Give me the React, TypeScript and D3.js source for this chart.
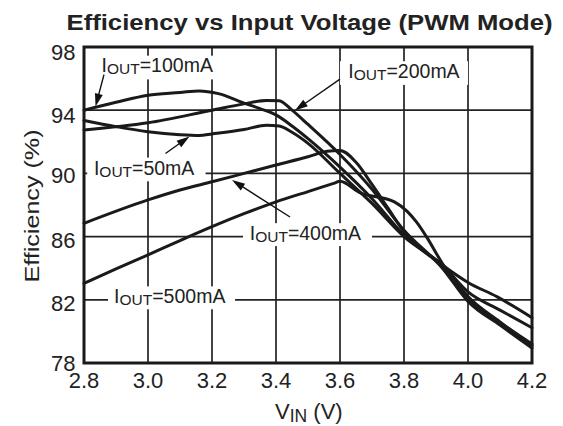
import React from 'react';
import * as d3 from 'd3';

// ---------- data ----------
const xTicks = [2.8, 3.0, 3.2, 3.4, 3.6, 3.8, 4.0, 4.2];
const yTicks = [78, 82, 86, 90, 94, 98];
const xTickLabels = ['2.8', '3.0', '3.2', '3.4', '3.6', '3.8', '4.0', '4.2'];
const yTickLabels = ['78', '82', '86', '90', '94', '98'];

const vin50 = [2.8, 2.9, 3.0, 3.1, 3.16, 3.2, 3.3, 3.37, 3.41, 3.45, 3.5, 3.6, 3.7, 3.8, 3.92, 4.0, 4.1, 4.2];
const eff50 = [93.35, 92.96, 92.64, 92.45, 92.4, 92.5, 92.78, 93.05, 93.0, 92.6, 91.9, 90.0, 88.1, 86.0, 84.2, 82.5, 81.35, 80.23];

const vin100 = [2.8, 2.9, 3.0, 3.1, 3.16, 3.22, 3.3, 3.35, 3.4, 3.45, 3.5, 3.6, 3.7, 3.8, 3.92, 4.0, 4.1, 4.2];
const eff100 = [94.0, 94.5, 94.95, 95.12, 95.22, 95.05, 94.45, 94.1, 93.7, 93.0, 92.2, 90.4, 88.4, 86.1, 84.1, 82.0, 80.55, 79.2];

const vin200 = [2.8, 3.0, 3.2, 3.3, 3.37, 3.41, 3.45, 3.5, 3.6, 3.7, 3.8, 3.92, 4.0, 4.1, 4.2];
const eff200 = [92.75, 93.2, 94.0, 94.4, 94.62, 94.6, 94.0, 93.1, 91.2, 89.0, 86.4, 84.0, 81.9, 80.4, 78.95];

const vin400 = [2.8, 3.0, 3.1, 3.2, 3.3, 3.4, 3.5, 3.56, 3.6, 3.65, 3.7, 3.75, 3.8, 3.92, 4.0, 4.09, 4.2];
const eff400 = [86.84, 88.32, 88.95, 89.47, 90.0, 90.53, 91.05, 91.4, 91.45, 90.7, 89.3, 87.8, 86.3, 84.2, 83.1, 82.2, 80.87];

const vin500 = [2.8, 2.9, 3.0, 3.1, 3.2, 3.3, 3.4, 3.5, 3.58, 3.6, 3.66, 3.77, 3.81, 3.84, 3.87, 3.92, 4.0, 4.1, 4.2];
const eff500 = [83.04, 83.95, 84.84, 85.75, 86.63, 87.45, 88.2, 88.85, 89.37, 89.5, 88.8, 88.2, 87.6, 86.9, 86.0, 84.3, 82.2, 80.6, 79.1];

const seriesNames = ['50mA', '100mA', '200mA', '400mA', '500mA'];
const seriesVin = [vin50, vin100, vin200, vin400, vin500];
const seriesEff = [eff50, eff100, eff200, eff400, eff500];

// ---------- layout ----------
const W = 563;
const H = 426;
const M = { left: 84, right: 31, top: 47, bottom: 63 };
const FONT = '"Liberation Sans", Arial, Helvetica, sans-serif';
const yTickDy = [7.5, 11, 11.5, 10, 12.5, 13];

// annotation layout (data coordinates)
const labels = [
  { name: '100mA', v: 2.855, e: 96.4, box: [2.83, 3.23, 97.45, 95.95] },
  { name: '200mA', v: 3.626, e: 96.02, box: [3.6, 4.0, 97.1, 95.6] },
  { name: '50mA', v: 2.831, e: 89.92, box: [2.81, 3.18, 91.0, 89.5] },
  { name: '400mA', v: 3.318, e: 85.76, box: [3.297, 3.7, 86.85, 85.4] },
  { name: '500mA', v: 2.894, e: 81.8, box: [2.875, 3.272, 82.85, 81.4] },
];
const arrows = [
  { from: [2.8625, 96.25], to: [2.836, 94.23] },
  { from: [3.6, 95.97], to: [3.459, 93.98] },
  { from: [3.0547, 91.26], to: [3.1297, 92.34] },
  { from: [3.4438, 87.24], to: [3.2625, 89.58] },
];

export default function App() {
  const x = d3.scaleLinear().domain([2.8, 4.2]).range([M.left, W - M.right]);
  const y = d3.scaleLinear().domain([78, 98]).range([H - M.bottom, M.top]);

  const line = d3
    .line<[number, number]>()
    .x((d) => x(d[0]))
    .y((d) => y(d[1]))
    .curve(d3.curveMonotoneX);

  const arrowEls = arrows.map((a, i) => {
    const x0 = x(a.from[0]);
    const y0 = y(a.from[1]);
    const x1 = x(a.to[0]);
    const y1 = y(a.to[1]);
    const dx = x1 - x0;
    const dy = y1 - y0;
    const len = Math.sqrt(dx * dx + dy * dy);
    const ux = dx / len;
    const uy = dy / len;
    const L = 13;
    const Wd = 4;
    const bx = x1 - ux * L;
    const by = y1 - uy * L;
    const pts = [
      [x1, y1],
      [bx - uy * Wd, by + ux * Wd],
      [bx + uy * Wd, by - ux * Wd],
    ];
    return (
      <g key={'a' + i}>
        <line x1={x0} y1={y0} x2={bx + ux * 2} y2={by + uy * 2} stroke="#111" strokeWidth={1.4} />
        <polygon points={pts.map((p) => p.join(',')).join(' ')} fill="#111" />
      </g>
    );
  });

  return (
    <svg
      width={W}
      height={H}
      style={{ position: 'absolute', left: 0, top: 0, background: '#fff' }}
      fontFamily={FONT}
    >
      <rect x={0} y={0} width={W} height={H} fill="#fff" />
      {/* title */}
      <text x={66.5} y={29.5} fontSize={22} fontWeight="bold" fill="#222" textLength={486} lengthAdjust="spacingAndGlyphs">
        Efficiency vs Input Voltage (PWM Mode)
      </text>

      {/* grid */}
      {xTicks.map((t) => (
        <line key={'gx' + t} x1={x(t)} x2={x(t)} y1={y(98)} y2={y(78)} stroke="#222" strokeWidth={1.7} />
      ))}
      {yTicks.map((t) => (
        <line key={'gy' + t} x1={x(2.8)} x2={x(4.2)} y1={y(t)} y2={y(t)} stroke="#222" strokeWidth={1.7} />
      ))}

      {/* label backgrounds */}
      {labels.map((l) => (
        <rect
          key={'bg' + l.name}
          x={x(l.box[0])}
          y={y(l.box[2])}
          width={x(l.box[1]) - x(l.box[0])}
          height={y(l.box[3]) - y(l.box[2])}
          fill="#fff"
        />
      ))}

      {/* curves */}
      {seriesNames.map((n, i) => (
        <path
          key={'c' + n}
          d={line(seriesVin[i].map((v, j) => [v, seriesEff[i][j]] as [number, number])) || ''}
          fill="none"
          stroke="#1a1a1a"
          strokeWidth={3}
          strokeLinejoin="round"
          strokeLinecap="round"
        />
      ))}

      {/* frame */}
      <rect
        x={x(2.8)}
        y={y(98)}
        width={x(4.2) - x(2.8)}
        height={y(78) - y(98)}
        fill="none"
        stroke="#1a1a1a"
        strokeWidth={3}
      />

      {/* labels */}
      {labels.map((l) => (
        <text key={'t' + l.name} x={x(l.v)} y={y(l.e)} fontSize={19.5} fill="#222">
          <tspan>I</tspan>
          <tspan fontSize={15.5} dy={2}>OUT</tspan>
          <tspan dy={-2}>{'=' + l.name}</tspan>
        </text>
      ))}
      {arrowEls}

      {/* tick labels */}
      {xTicks.map((t, i) => (
        <text key={'xt' + t} x={x(t)} y={388} fontSize={22} textAnchor="middle" fill="#222">
          {xTickLabels[i]}
        </text>
      ))}
      {yTicks.map((t, i) => (
        <text key={'yt' + t} x={75.5} y={y(t) + yTickDy[i]} fontSize={22} textAnchor="end" fill="#222">
          {yTickLabels[i]}
        </text>
      ))}

      {/* axis titles */}
      <text x={275} y={418.5} fontSize={22} fill="#222">
        <tspan>V</tspan>
        <tspan fontSize={17.5} dy={3}>IN</tspan>
        <tspan dy={-3}> (V)</tspan>
      </text>
      <text
        transform={`translate(39, ${(y(98) + y(78)) / 2 + 1}) rotate(-90)`}
        fontSize={21}
        textAnchor="middle"
        fill="#222"
        textLength={153}
        lengthAdjust="spacingAndGlyphs"
      >
        Efficiency (%)
      </text>
    </svg>
  );
}
